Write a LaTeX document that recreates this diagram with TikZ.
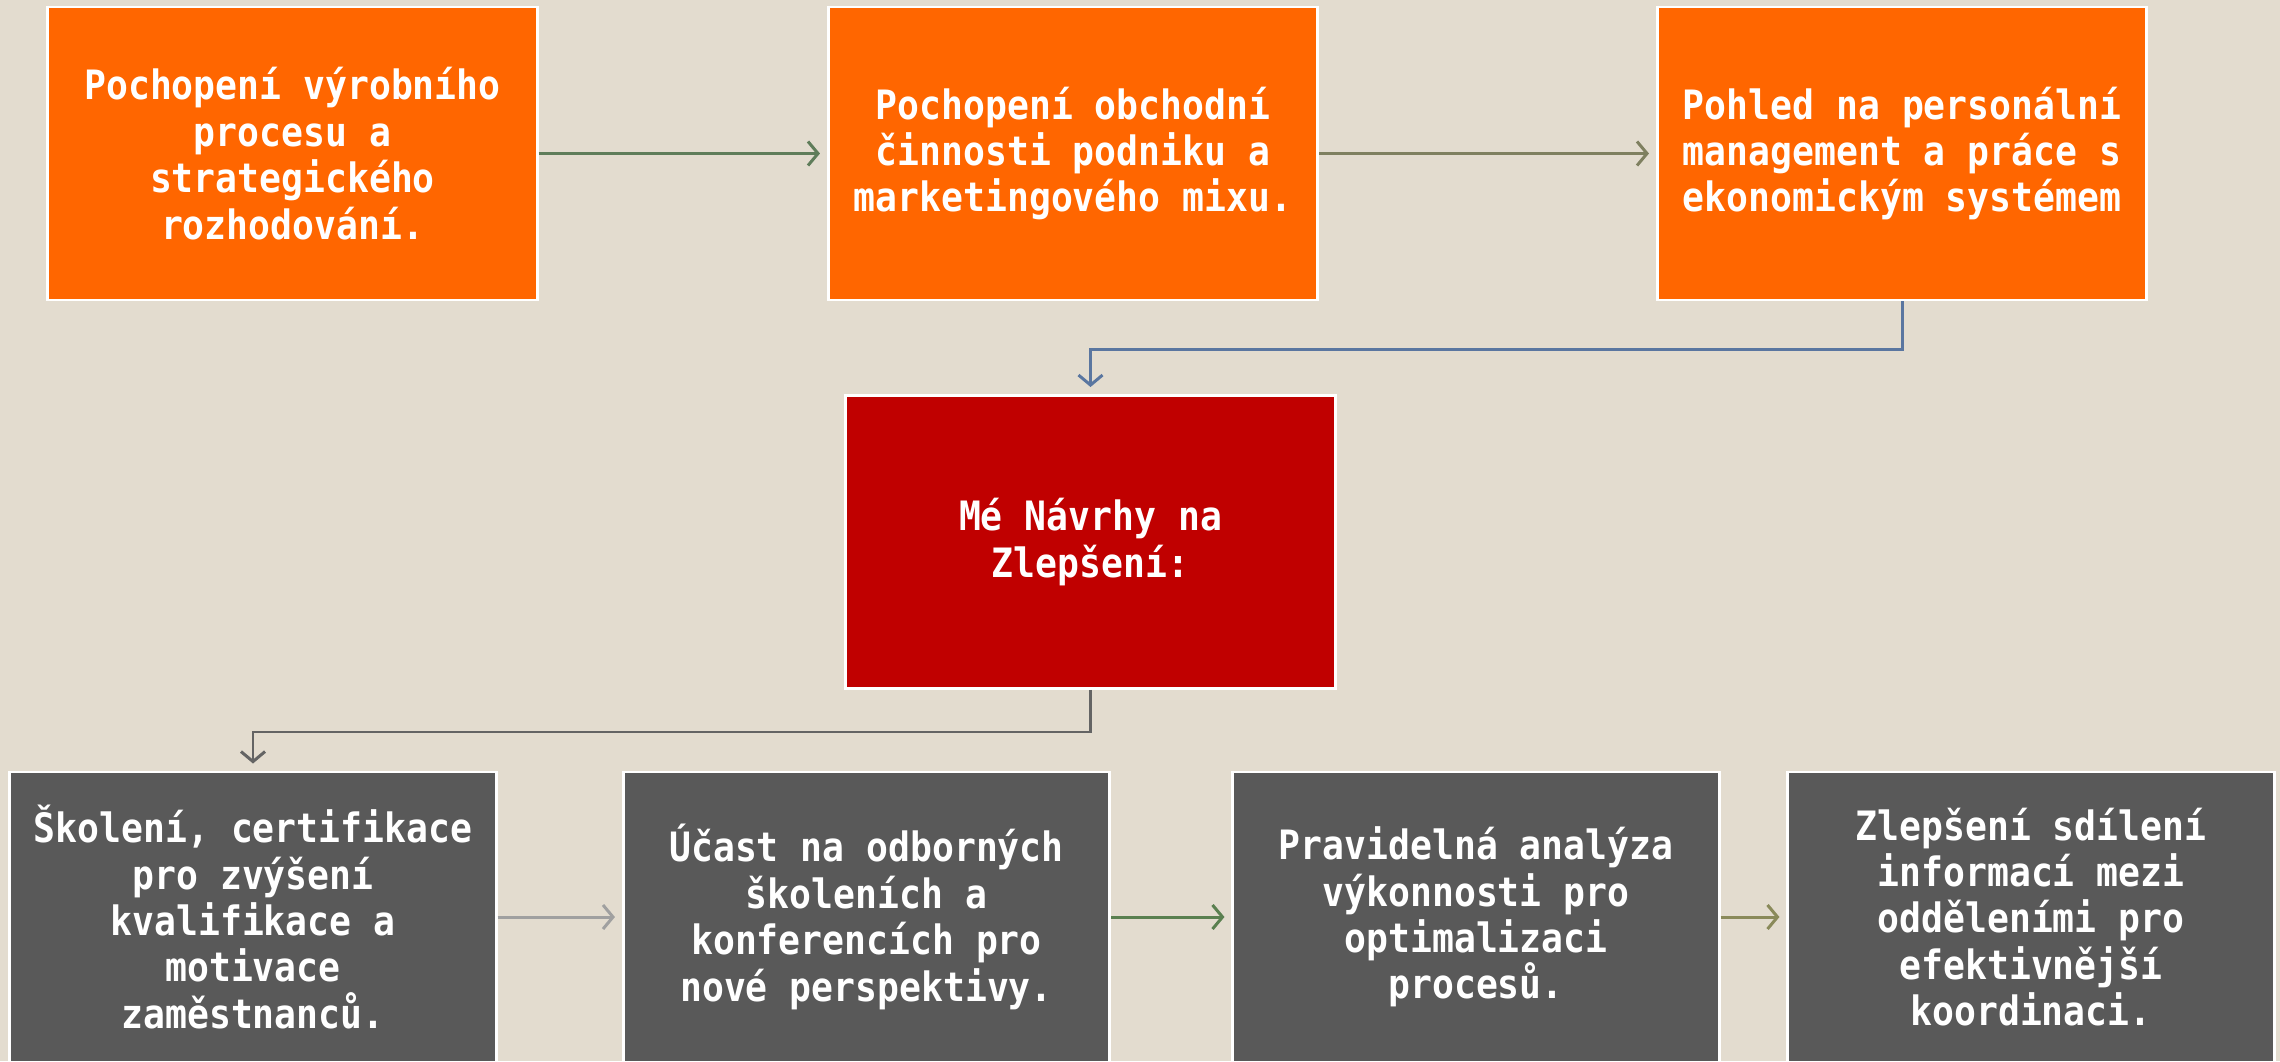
\documentclass[tikz,border=0pt]{standalone}
\usepackage{fontspec}
\setmonofont[FakeStretch=0.9]{DejaVu Sans Mono}
\usepackage{tikz}
\usetikzlibrary{arrows.meta,positioning}
\definecolor{paper}{HTML}{E3DCCF}
\definecolor{borange}{HTML}{FF6600}
\definecolor{bred}{HTML}{C00000}
\definecolor{bgrey}{HTML}{595959}
\definecolor{lgreen}{HTML}{5F7D5A}
\definecolor{lolive}{HTML}{7F8060}
\definecolor{lblue}{HTML}{5A76A0}
\definecolor{ldark}{HTML}{646464}
\definecolor{llight}{HTML}{A0A0A0}
\definecolor{lgreenb}{HTML}{5A8050}
\definecolor{lolivb}{HTML}{8A8A5A}

\begin{document}
\begin{tikzpicture}[
            x=0.01cm, y=-0.01cm,
            every node/.style={font=\ttfamily\bfseries\fontsize{11.5}{13.2}\selectfont,text=white,align=center},
            vbox/.style={rectangle,draw=white,line width=0.8pt,inner sep=0pt,minimum width=4.89cm,minimum height=2.93cm},
            vorange/.style={vbox,fill=borange},
            vred/.style={vbox,fill=bred},
            vgrey/.style={vbox,fill=bgrey,minimum width=4.86cm,minimum height=2.9cm},
            link/.style={line width=0.85pt,-{Straight Barb[length=0.1cm,width=0.24cm]},shorten >=0.07cm}
          ]
          \fill[paper] (0,0) rectangle (2280,1061);
          \useasboundingbox (0,0) rectangle (2280,1061);
          % top row
          \node[vorange] (A) at (292.5,153.5) {Pochopení výrobního\\procesu a\\strategického\\rozhodování.};
          \node[vorange] (B) at (1073,153.5) {Pochopení obchodní\\činnosti podniku a\\marketingového mixu.};
          \node[vorange] (C) at (1902,153.5) {Pohled na personální\\management a práce s\\ekonomickým systémem};
          % middle
          \node[vred] (D) at (1090.5,542) {Mé Návrhy na\\Zlepšení:};
          % bottom row
          \node[vgrey] (E) at (253,917) {Školení, certifikace\\pro zvýšení\\kvalifikace a\\motivace\\zaměstnanců.};
          \node[vgrey] (F) at (866.5,917) {Účast na odborných\\školeních a\\konferencích pro\\nové perspektivy.};
          \node[vgrey] (G) at (1476,917) {Pravidelná analýza\\výkonnosti pro\\optimalizaci\\procesů.};
          \node[vgrey] (H) at (2031,917) {Zlepšení sdílení\\informací mezi\\odděleními pro\\efektivnější\\koordinaci.};
          \draw[link,lgreen] (A) -- (B);
          \draw[link,lolive] (B) -- (C);
          \draw[link,lblue] (C.south) -- ++(0,48) -| (D.north);
          \draw[link,ldark] (D.south) -- ++(0,42) -| (E.north);
          \draw[link,llight] (E) -- (F);
          \draw[link,lgreenb] (F) -- (G);
          \draw[link,lolivb] (G) -- (H);
        \end{tikzpicture}
\end{document}
